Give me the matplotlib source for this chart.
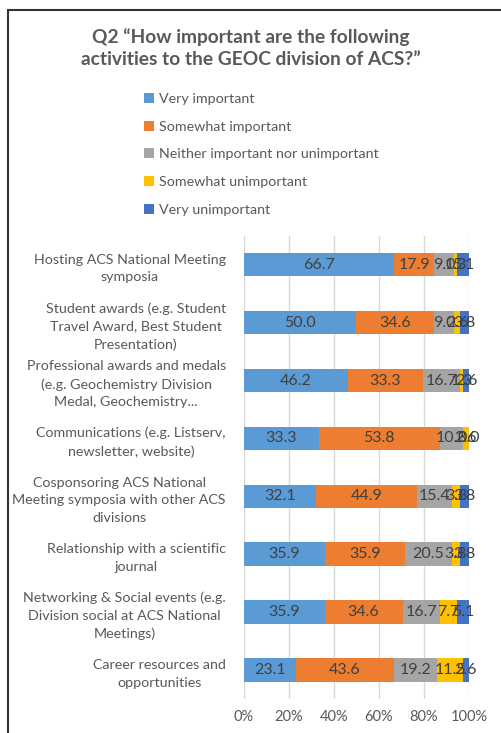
import numpy as np
import matplotlib
matplotlib.use("Agg")
from matplotlib import pyplot as plt
from matplotlib.patches import Rectangle

plt.rcParams['font.family'] = ['Lato', 'DejaVu Sans']

# survey data (percent of respondents)
categories = [
    "Hosting ACS National Meeting\nsymposia",
    "Student awards (e.g. Student\nTravel Award, Best Student\nPresentation)",
    "Professional awards and medals\n(e.g. Geochemistry Division\nMedal, Geochemistry...",
    "Communications (e.g. Listserv,\nnewsletter, website)",
    "Cosponsoring ACS National\nMeeting symposia with other ACS\ndivisions",
    "Relationship with a scientific\njournal",
    "Networking & Social events (e.g.\nDivision social at ACS National\nMeetings)",
    "Career resources and\nopportunities",
]
series_names = ["Very important", "Somewhat important",
                "Neither important nor unimportant",
                "Somewhat unimportant", "Very unimportant"]
very_imp = [66.7, 50.0, 46.2, 33.3, 32.1, 35.9, 35.9, 23.1]
some_imp = [17.9, 34.6, 33.3, 53.8, 44.9, 35.9, 34.6, 43.6]
neither = [9.0, 9.0, 16.7, 10.3, 15.4, 20.5, 16.7, 19.2]
some_unimp = [1.3, 2.6, 1.3, 2.6, 3.8, 3.8, 7.7, 11.5]
very_unimp = [5.1, 3.8, 2.6, 0.0, 3.8, 3.8, 5.1, 2.6]
xticks = [0, 20, 40, 60, 80, 100]

colors = ["#5B9BD5", "#ED7D31", "#A5A5A5", "#FFC000", "#4472C4"]
txt = "#595959"

fig = plt.figure(figsize=(5.02, 7.33), dpi=100)
ax = fig.add_axes([0.486, 0.0464, 0.448, 0.632])

y = np.arange(len(categories))
left = np.zeros(len(categories))
handles = []
for name, vals, c in zip(series_names,
                         [very_imp, some_imp, neither, some_unimp, very_unimp],
                         colors):
    vals = np.array(vals)
    b = ax.barh(y, vals, left=left, height=0.406, color=c, label=name, zorder=2)
    ax.bar_label(b, labels=["%.1f" % v for v in vals], label_type='center',
                 color="#404040", fontsize=11.5)
    handles.append(b)
    left += vals

ax.set_ylim(len(categories) - 0.5, -0.5)
ax.set_xlim(0, 100)
ax.set_xticks(xticks)
ax.set_xticklabels(["%d%%" % t for t in xticks], color=txt, fontsize=10.5)
ax.set_yticks(y)
ax.set_yticklabels(categories, color=txt, fontsize=10.3, linespacing=1.55)
for lab in ax.get_yticklabels():
    lab.set_multialignment('center')
ax.tick_params(axis='both', length=0)
ax.tick_params(axis='y', pad=13)
ax.tick_params(axis='x', pad=8)
ax.grid(axis='x', color="#D9D9D9", linewidth=1, zorder=0)
for s in ax.spines.values():
    s.set_visible(False)

fig.text(0.5, 0.962, "Q2 \u201cHow important are the following\nactivities to the GEOC division of ACS?\u201d",
         ha='center', va='top', fontsize=13.8, fontweight='bold', color=txt,
         linespacing=1.35)

fig.legend(handles=handles, labels=series_names, loc='upper left',
           bbox_to_anchor=(0.262, 0.891), frameon=False, fontsize=10.3,
           labelcolor=txt, handlelength=0.7, handleheight=0.7,
           handletextpad=0.35, labelspacing=1.1)

# outer frame of the screenshot
fig.add_artist(Rectangle((8 / 502, -0.05), 1.0, 1 - 10 / 733 + 0.05,
                         transform=fig.transFigure, fill=False,
                         edgecolor="#333333", linewidth=1.5))

fig.savefig("out.png", dpi=100)
